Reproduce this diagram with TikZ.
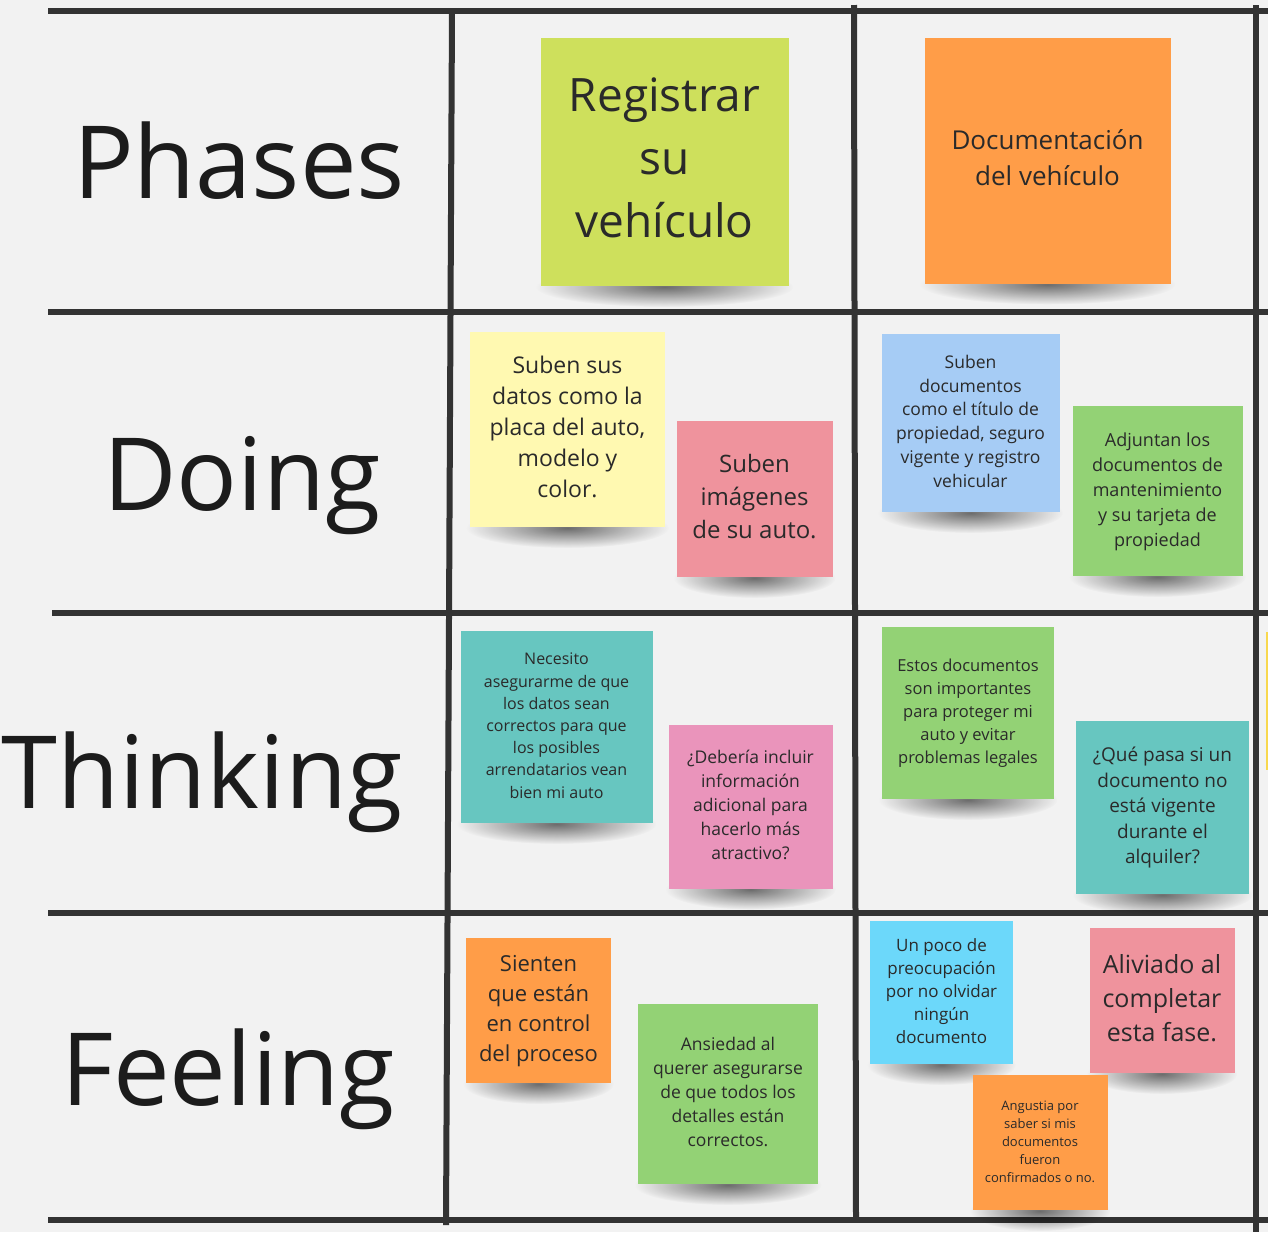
\documentclass[tikz,border=0pt]{standalone}
\usepackage{fontspec}
\setmainfont{Open Sans}
\usetikzlibrary{fadings}
\definecolor{boardbg}{HTML}{F2F2F2}
\definecolor{gridgray}{HTML}{333333}
\definecolor{headtext}{HTML}{1C1C1C}
\definecolor{notetext}{HTML}{2A2A2A}
\definecolor{notelime}{HTML}{CEE05C}
\definecolor{noteorange}{HTML}{FF9D48}
\definecolor{noteyellow}{HTML}{FFF9B1}
\definecolor{notered}{HTML}{EF939D}
\definecolor{noteblue}{HTML}{A6CCF5}
\definecolor{notegreen}{HTML}{93D275}
\definecolor{noteteal}{HTML}{67C6C0}
\definecolor{notepink}{HTML}{EA94BB}
\definecolor{notecyan}{HTML}{6CD8FA}
\definecolor{noteamber}{HTML}{F8D84E}
\tikzfading[name=stickyfade, inner color=transparent!45, outer color=transparent!100]
\tikzset{
  gridline/.style={line width=6pt, draw=gridgray},
  rowlabel/.style={anchor=base, text=headtext, inner sep=0pt,
    font=\fontsize{101}{120}\selectfont},
  sticky/.style={fill=#1, text=notetext, inner sep=3pt, align=center},
  stickyshadow/.style={fill=black, path fading=stickyfade}
}
% name, x, y, size, colour, font size, line skip, text
\newcommand{\stickynote}[8]{%
  \fill[stickyshadow] (#2,#3+#4/2+1) ellipse ({0.52*#4pt} and 20pt);
  \node[sticky=#5, minimum width=#4pt, minimum height=#4pt,
    font=\fontsize{#6}{#7}\selectfont] (#1) at (#2,#3) {\raisebox{2pt}{\begin{tabular}{@{}c@{}}#8\end{tabular}}};
}

\begin{document}
\begin{tikzpicture}[x=1pt, y=-1pt]
\useasboundingbox (0,0) rectangle (1268,1232);
\clip (0,0) rectangle (1268,1232);
\fill[boardbg] (0,0) rectangle (1268,1232);

\draw[gridline] (48,11) -- (1268,11);
\draw[gridline] (48,312) -- (1268,312);
\draw[gridline] (52,613) -- (1268,613);
\draw[gridline] (48,913) -- (1268,913);
\draw[gridline] (48,1220) -- (1268,1220);
\draw[gridline] (452,11) -- (446,1225);
\draw[gridline] (854,5) -- (856,1220);
\draw[gridline] (1256,5) -- (1256,1232);

\node[rowlabel] (phases) at (239,198) {Phases};
\node[rowlabel] (doing) at (242,510) {Doing};
\node[rowlabel] (thinking) at (202,808) {Thinking};
\node[rowlabel] (feeling) at (228,1105) {Feeling};

\fill[noteamber] (1265.5,632) rectangle (1275,770);

\stickynote{registrar}{664.5}{162}{248}{notelime}{46}{63}{Registrar\\su\\vehículo}
\stickynote{documentacion}{1047.5}{160.5}{246}{noteorange}{26}{36}{Documentación\\del vehículo}
\stickynote{datos}{567.5}{429.5}{195}{noteyellow}{23}{31}{Suben sus\\datos como la\\placa del auto,\\modelo y\\color.}
\stickynote{imagenes}{754.5}{499}{156}{notered}{24}{33}{Suben\\imágenes\\de su auto.}
\stickynote{titulo}{970.5}{423}{178}{noteblue}{17.5}{23.8}{Suben\\documentos\\como el título de\\propiedad, seguro\\vigente y registro\\vehicular}
\stickynote{adjuntan}{1157.5}{491}{170}{notegreen}{18}{25}{Adjuntan los\\documentos de\\mantenimiento\\y su tarjeta de\\propiedad}
\stickynote{necesito}{556.5}{727}{192}{noteteal}{16}{22.2}{Necesito\\asegurarme de que\\los datos sean\\correctos para que\\los posibles\\arrendatarios vean\\bien mi auto}
\stickynote{deberia}{750.5}{806.5}{164}{notepink}{17.5}{24}{¿Debería incluir\\información\\adicional para\\hacerlo más\\atractivo?}
\stickynote{estos}{968}{713}{172}{notegreen}{16.5}{23}{Estos documentos\\son importantes\\para proteger mi\\auto y evitar\\problemas legales}
\stickynote{quepasa}{1162.5}{807.5}{173}{noteteal}{19}{25.5}{¿Qué pasa si un\\documento no\\está vigente\\durante el\\alquiler?}
\stickynote{sienten}{538.5}{1010.5}{145}{noteorange}{22}{30}{Sienten\\que están\\en control\\del proceso}
\stickynote{ansiedad}{728}{1094}{180}{notegreen}{17.5}{24}{Ansiedad al\\querer asegurarse\\de que todos los\\detalles están\\correctos.}
\stickynote{poco}{941.5}{992.5}{143}{notecyan}{17}{23}{Un poco de\\preocupación\\por no olvidar\\ningún\\documento}
\stickynote{aliviado}{1162}{1000.5}{145}{notered}{25}{34}{Aliviado al\\completar\\esta fase.}
\stickynote{angustia}{1040}{1142.5}{135}{noteorange}{13}{18}{Angustia por\\saber si mis\\documentos\\fueron\\confirmados o no.}
\end{tikzpicture}
\end{document}
